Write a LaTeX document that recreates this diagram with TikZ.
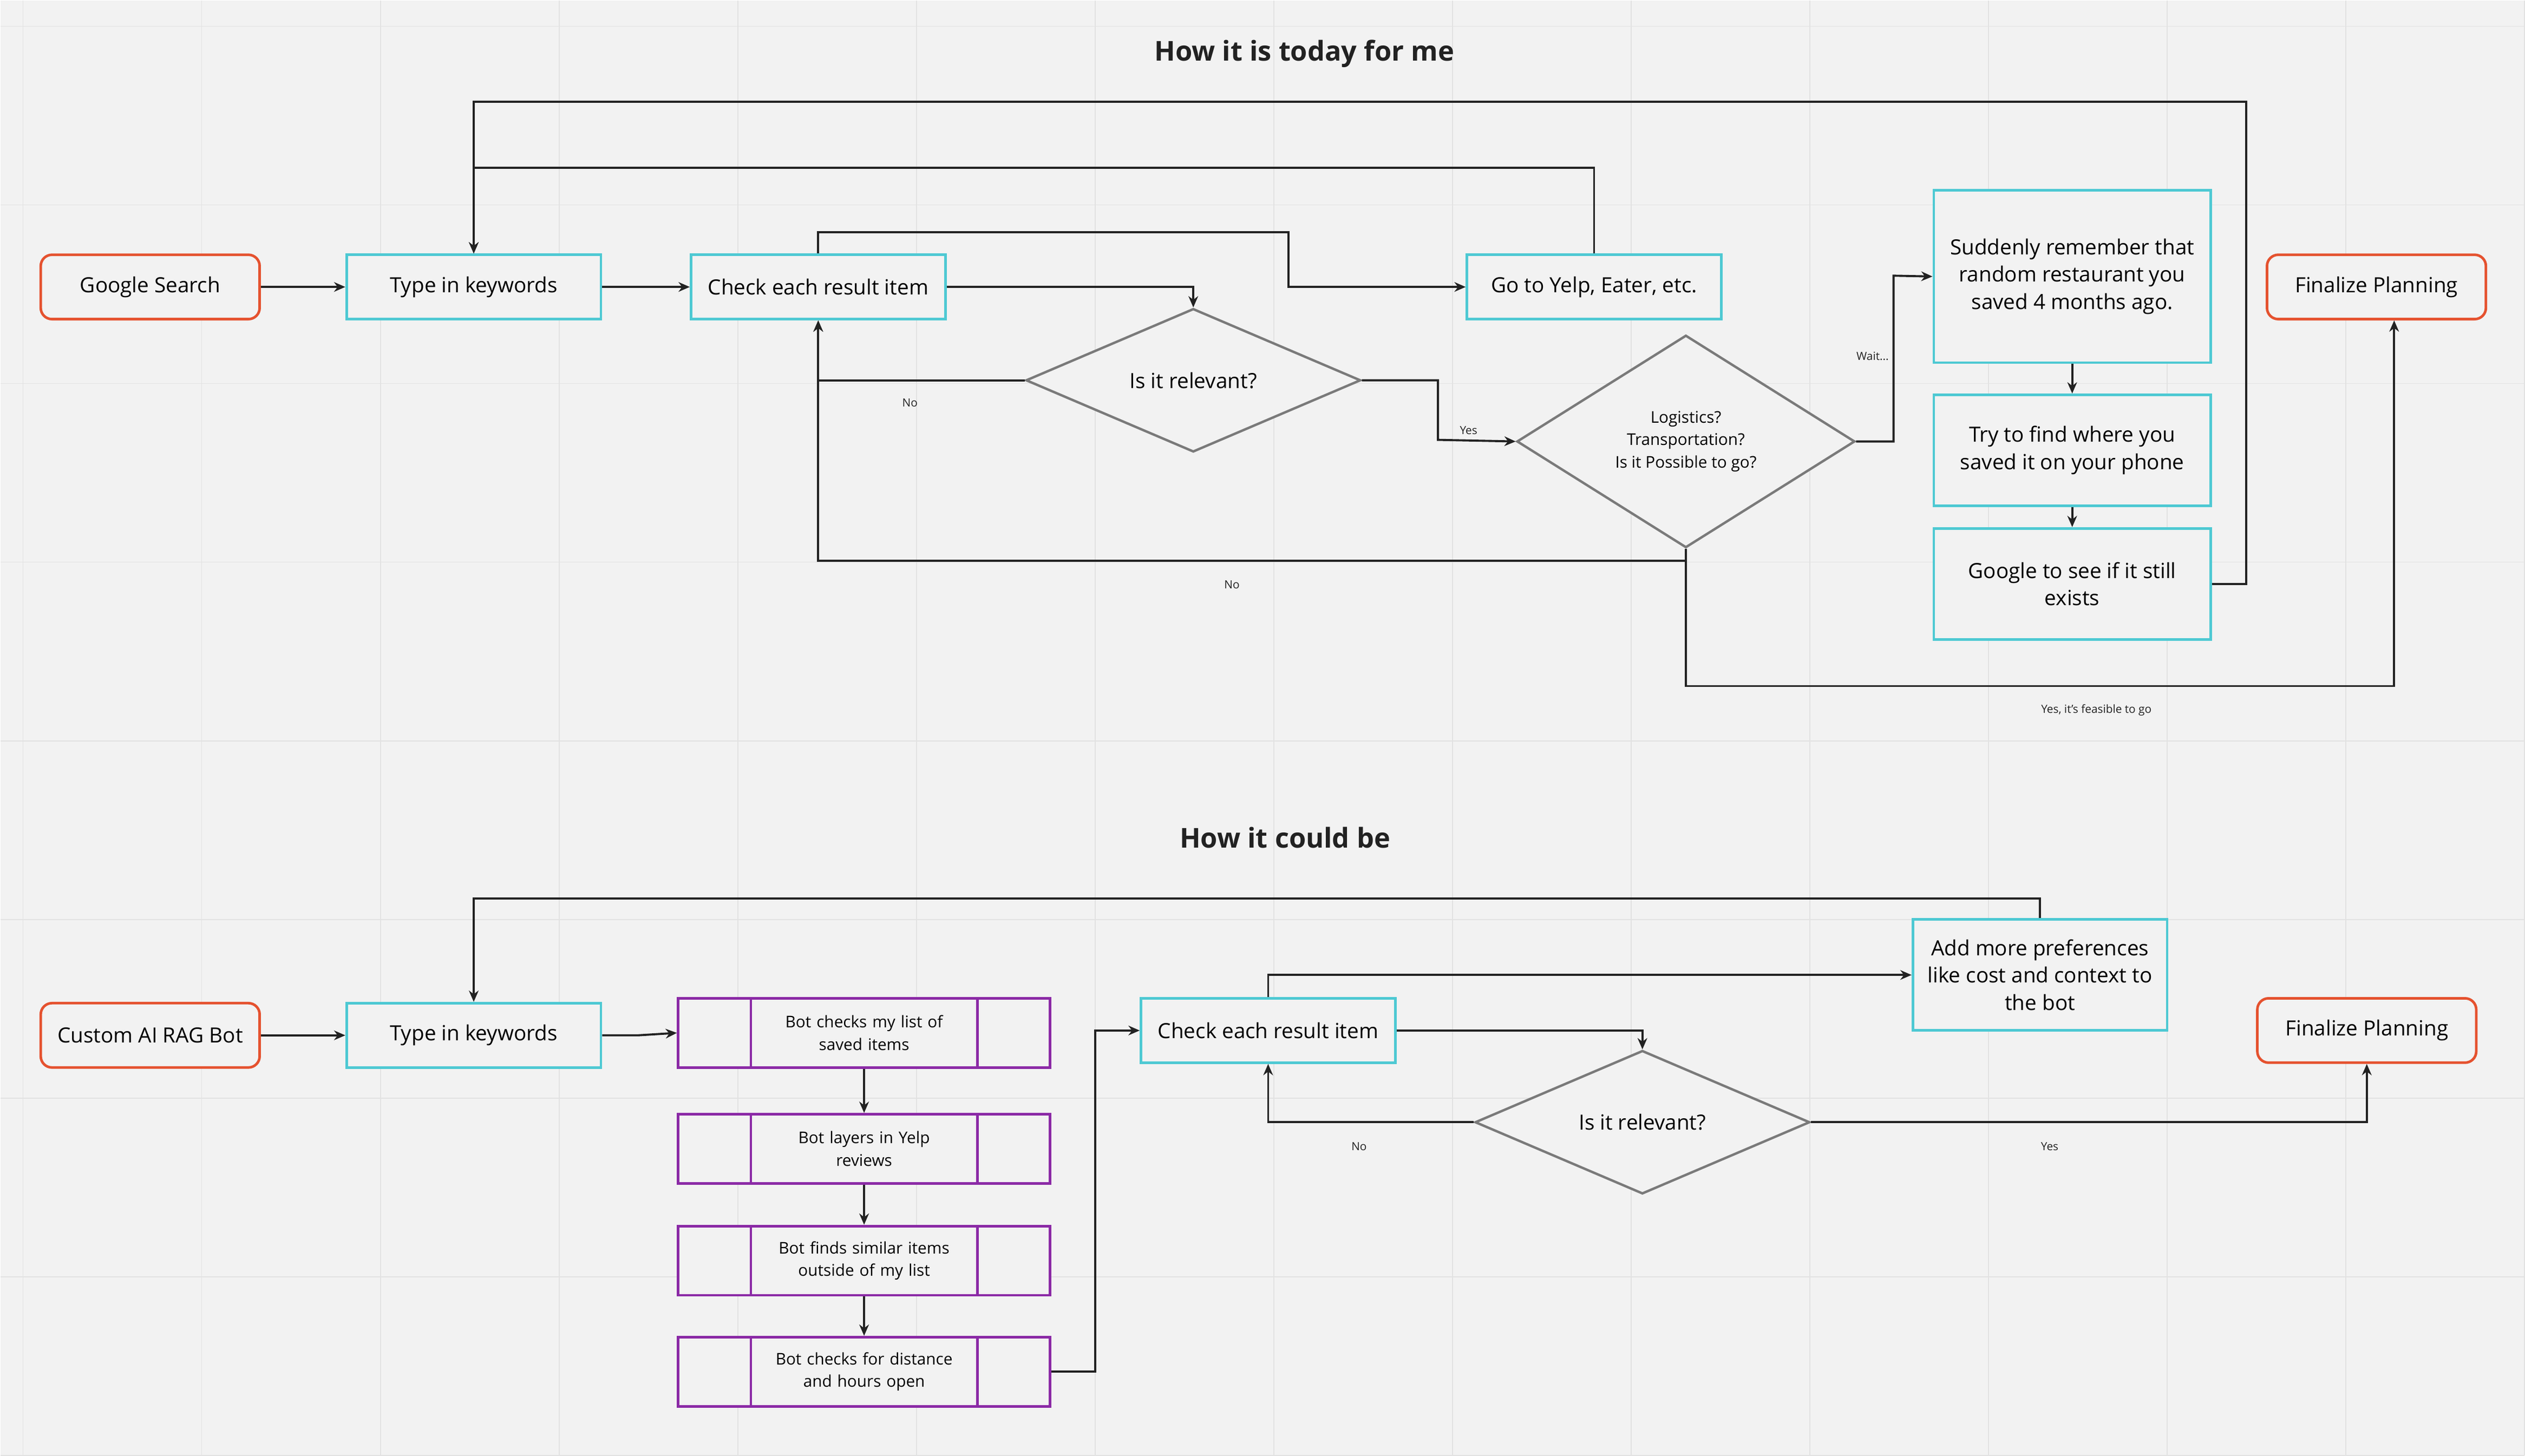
\documentclass[tikz,border=0pt]{standalone}
\usepackage{fontspec}
\setmainfont{Open Sans}
\usetikzlibrary{shapes.geometric,arrows.meta}
\definecolor{startred}{HTML}{E5522F}
\definecolor{stepcyan}{HTML}{4EC9D3}
\definecolor{botpurple}{HTML}{8B2AA6}
\definecolor{askgray}{HTML}{7A7A7A}
\definecolor{paper}{HTML}{F2F2F2}
\definecolor{gridline}{HTML}{E2E2E2}
\definecolor{ink}{HTML}{222222}
\tikzset{
  endbox/.style={draw=startred, line width=1.6pt, rounded corners=7pt, fill=paper, minimum width=136pt, minimum height=40pt, font=\fontsize{13}{15}\selectfont},
  stepbox/.style={draw=stepcyan, line width=1.6pt, fill=paper, minimum width=158pt, minimum height=40pt, align=center, font=\fontsize{13}{17}\selectfont},
  botbox/.style={draw=botpurple, line width=1.6pt, fill=paper, minimum width=231pt, minimum height=43pt, align=center, text width=130pt, font=\fontsize{10}{14}\selectfont},
  askbox/.style={draw=askgray, line width=1.5pt, diamond, fill=paper, inner sep=0pt, align=center, font=\fontsize{13}{15}\selectfont},
  flow/.style={draw=ink, line width=1.3pt, -{Stealth[length=7pt,width=6pt]}},
  tag/.style={font=\fontsize{7}{9}\selectfont, text=ink},
  heading/.style={font=\fontsize{17}{20}\selectfont\bfseries, text=ink}
}
\begin{document}
\begin{tikzpicture}[x=1pt,y=-1pt]
% Fondo
\fill[paper] (0,0) rectangle (1568,904);
\foreach \gx in {14,125,...,1568} \draw[gridline, line width=0.6pt] (\gx,0) -- (\gx,904);
\foreach \gy in {16,127,...,904} \draw[gridline, line width=0.6pt] (0,\gy) -- (1568,\gy);
\useasboundingbox (0,0) rectangle (1568,904);
% Titulos
\node[heading] (title1) at (810,33) {How it is today for me};
\node[heading] (title2) at (798,520) {How it could be};

% Hoy
\node[endbox] (gsearch) at (93,178) {Google Search};
\node[stepbox] (keys1) at (294,178) {Type in keywords};
\node[stepbox] (check1) at (508,178) {Check each result item};
\node[stepbox] (yelp) at (990,178) {Go to Yelp, Eater, etc.};
\node[stepbox, minimum width=172pt, minimum height=107pt] (recall) at (1287,171.5) {Suddenly remember that\\random restaurant you\\saved 4 months ago.};
\node[stepbox, minimum width=172pt, minimum height=69pt] (phone) at (1287,279.5) {Try to find where you\\saved it on your phone};
\node[stepbox, minimum width=172pt, minimum height=69pt] (still) at (1287,362.5) {Google to see if it still\\exists};
\node[endbox] (final1) at (1476,178) {Finalize Planning};
\node[askbox, minimum width=208pt, minimum height=56pt] (rel1) at (741,236) {Is it relevant?};
\node[askbox, minimum width=210pt, minimum height=132pt, font=\fontsize{10}{14}\selectfont] (logi) at (1047,274) {Logistics?\\Transportation?\\Is it Possible to go?};

\coordinate (loopA) at (294,63);
\coordinate (loopB) at (294,104);
\draw[flow] (gsearch) -- (keys1);
\draw[flow] (keys1) -- (check1);
\draw[flow] (check1.east) -| (rel1.north);
\draw[flow] (check1.north) |- (800,144) |- (yelp.west);
\draw[flow] (yelp.north) |- (loopB) -- (keys1.north);
\draw[flow] (still.east) -| (1395,63) -- (loopA) -- (keys1.north);
\draw[flow] (rel1.west) -| (check1.south);
\node[tag] (no1) at (565,250) {No};
\draw[flow] (rel1.east) -| (893,273) -- (logi.west);
\node[tag] (yes1) at (912,267) {Yes};
\draw[flow] (logi.south) |- (508,348) -- (check1.south);
\node[tag] (no2) at (765,363) {No};
\draw[flow] (logi.south) |- (1487,426) -- (final1.south -| 1487,0);
\node[tag] (yes2) at (1302,441) {Yes, it's feasible to go};
\draw[flow] (logi.east) -| (1176,171) -- (recall.west);
\node[tag] (wait) at (1163,221) {Wait...};
\draw[flow] (recall) -- (phone);
\draw[flow] (phone) -- (still);

% Podria ser
\node[endbox] (ragbot) at (93,643) {Custom AI RAG Bot};
\node[stepbox] (keys2) at (294,643) {Type in keywords};
\node[botbox] (bot1) at (536.5,641.5) {Bot checks my list of\\saved items};
\node[botbox] (bot2) at (536.5,713.5) {Bot layers in Yelp\\reviews};
\node[botbox] (bot3) at (536.5,783) {Bot finds similar items\\outside of my list};
\node[botbox] (bot4) at (536.5,852) {Bot checks for distance\\and hours open};
\foreach \b in {bot1,bot2,bot3,bot4} {
  \draw[botpurple, line width=1.6pt] (\b.north west) ++(46,0) -- ++(0,43);
  \draw[botpurple, line width=1.6pt] (\b.north east) ++(-46,0) -- ++(0,43);
}
\node[stepbox] (check2) at (787.5,640) {Check each result item};
\node[stepbox, minimum width=158pt, minimum height=69pt] (prefs) at (1267,605.5) {Add more preferences\\like cost and context to\\the bot};
\node[endbox] (final2) at (1470,640) {Finalize Planning};
\node[askbox, minimum width=208pt, minimum height=56pt] (rel2) at (1020,697) {Is it relevant?};

\draw[flow] (ragbot) -- (keys2);
\draw[flow] (keys2.east) -- (396,643) -- (bot1.west);
\draw[flow] (bot1) -- (bot2);
\draw[flow] (bot2) -- (bot3);
\draw[flow] (bot3) -- (bot4);
\draw[flow] (bot4.east) -| (680,640) -- (check2.west);
\draw[flow] (check2.east) -| (rel2.north);
\draw[flow] (check2.north) |- (prefs.west);
\draw[flow] (prefs.north) |- (294,558) -- (keys2.north);
\draw[flow] (rel2.west) -| (check2.south);
\node[tag] (no3) at (844,712) {No};
\draw[flow] (rel2.east) -| (final2.south);
\node[tag] (yes3) at (1273,712) {Yes};
\end{tikzpicture}
\end{document}
